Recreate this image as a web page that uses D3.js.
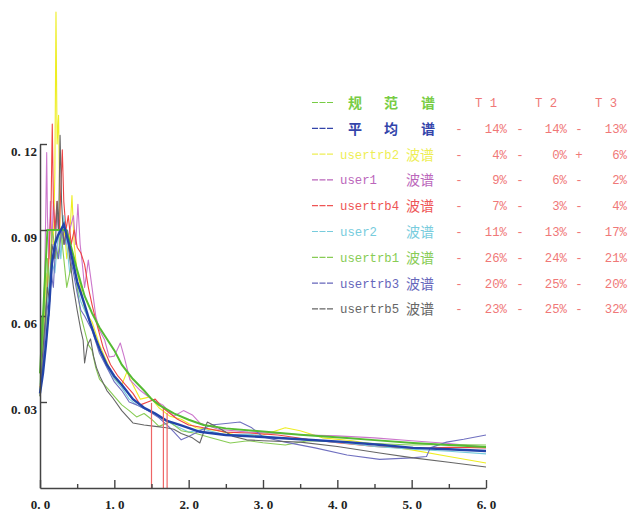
<!DOCTYPE html>
<html><head><meta charset="utf-8">
<script src="https://cdn.jsdelivr.net/npm/d3@7"></script>
<style>body{margin:0;background:#fff}svg{display:block}</style>
</head><body>
<svg id="c" width="628" height="512"></svg>
<script>
// ---- data ----
const xTicks = [0,0.5,1,1.5,2,2.5,3,3.5,4,4.5,5,5.5,6];
const xTickLabels = ["0. 0","","1. 0","","2. 0","","3. 0","","4. 0","","5. 0","","6. 0"];
const yTicks = [0.03,0.06,0.09,0.12];
const yTickLabels = ["0. 03","0. 06","0. 09","0. 12"];

const codeSpectrum = [[0,0.040],[0.1,0.09],[0.35,0.09],[0.4,0.086],[0.5,0.076],[0.6,0.067],[0.7,0.061],[0.8,0.056],[0.9,0.052],[1.0,0.048],[1.1,0.043],[1.25,0.038],[1.4,0.034],[1.5,0.031],[1.6,0.029],[1.7,0.0275],[1.8,0.026],[2.0,0.0238],[2.2,0.022],[2.5,0.0208],[3.0,0.0197],[3.5,0.0186],[4.13,0.0174],[4.5,0.0167],[5.02,0.0157],[5.5,0.015],[6.0,0.0143]];
const meanSpectrum = [[0,0.033],[0.04,0.04],[0.08,0.05],[0.12,0.062],[0.16,0.078],[0.2,0.085],[0.24,0.088],[0.28,0.09],[0.32,0.092],[0.36,0.088],[0.4,0.084],[0.45,0.078],[0.5,0.072],[0.55,0.068],[0.6,0.064],[0.67,0.058],[0.75,0.052],[0.81,0.048],[0.9,0.043],[1.0,0.039],[1.1,0.036],[1.25,0.031],[1.4,0.028],[1.55,0.026],[1.7,0.0235],[1.88,0.022],[2.15,0.0196],[2.5,0.0185],[3.0,0.0178],[3.5,0.017],[4.13,0.016],[4.6,0.015],[5.02,0.014],[5.5,0.0135],[6.0,0.0129]];
const usertrb2 = [[0,0.034],[0.03,0.045],[0.06,0.06],[0.08,0.075],[0.1,0.07],[0.12,0.085],[0.14,0.08],[0.16,0.09],[0.18,0.085],[0.2,0.11],[0.215,0.166],[0.23,0.12],[0.25,0.13],[0.27,0.09],[0.3,0.085],[0.33,0.09],[0.36,0.08],[0.4,0.088],[0.43,0.102],[0.46,0.085],[0.5,0.075],[0.55,0.07],[0.6,0.062],[0.7,0.058],[0.8,0.05],[0.9,0.044],[1.0,0.038],[1.1,0.036],[1.17,0.0405],[1.25,0.036],[1.35,0.031],[1.48,0.0318],[1.6,0.028],[1.75,0.025],[1.9,0.024],[2.1,0.021],[2.4,0.020],[2.7,0.018],[3.0,0.0185],[3.3,0.021],[3.5,0.02],[3.8,0.0175],[4.2,0.0165],[4.6,0.0148],[5.0,0.0133],[5.5,0.011],[6.0,0.0087]];
const user1 = [[0,0.04],[0.03,0.05],[0.06,0.07],[0.08,0.1],[0.09,0.117],[0.1,0.095],[0.12,0.08],[0.14,0.1],[0.16,0.085],[0.18,0.1],[0.2,0.09],[0.23,0.095],[0.26,0.085],[0.3,0.09],[0.35,0.085],[0.4,0.09],[0.45,0.095],[0.48,0.085],[0.51,0.099],[0.54,0.085],[0.57,0.078],[0.6,0.07],[0.65,0.0795],[0.7,0.07],[0.75,0.06],[0.8,0.055],[0.87,0.0516],[0.93,0.0457],[1.0,0.046],[1.08,0.0506],[1.13,0.046],[1.21,0.0377],[1.35,0.034],[1.5,0.031],[1.65,0.029],[1.8,0.025],[1.93,0.027],[2.05,0.0255],[2.15,0.0227],[2.4,0.0205],[2.8,0.0195],[3.2,0.019],[3.6,0.0185],[4.0,0.0182],[4.5,0.0175],[5.0,0.0165],[5.5,0.0155],[6.0,0.0143]];
const usertrb4 = [[0,0.035],[0.04,0.045],[0.08,0.06],[0.12,0.08],[0.15,0.1],[0.165,0.127],[0.18,0.1],[0.2,0.09],[0.23,0.1],[0.26,0.09],[0.3,0.118],[0.32,0.1],[0.35,0.09],[0.38,0.095],[0.42,0.085],[0.46,0.09],[0.5,0.084],[0.55,0.082],[0.6,0.078],[0.65,0.07],[0.7,0.064],[0.76,0.0576],[0.85,0.049],[0.95,0.043],[1.05,0.039],[1.15,0.036],[1.25,0.033],[1.35,0.029],[1.45,0.030],[1.55,0.031],[1.65,0.028],[1.75,0.026],[1.85,0.024],[2.0,0.022],[2.2,0.021],[2.5,0.0195],[2.8,0.0192],[3.2,0.0185],[3.6,0.017],[4.0,0.0158],[4.5,0.0145],[5.0,0.0138],[5.5,0.0142],[6.0,0.014]];
const user2 = [[0,0.036],[0.05,0.05],[0.1,0.065],[0.15,0.08],[0.2,0.075],[0.25,0.09],[0.28,0.08],[0.32,0.095],[0.36,0.085],[0.4,0.075],[0.45,0.08],[0.5,0.07],[0.55,0.065],[0.6,0.062],[0.7,0.056],[0.8,0.048],[0.9,0.042],[1.0,0.038],[1.1,0.035],[1.2,0.031],[1.3,0.029],[1.45,0.027],[1.6,0.025],[1.8,0.022],[2.0,0.0195],[2.2,0.0205],[2.5,0.0185],[2.8,0.0188],[3.2,0.0175],[3.6,0.0168],[4.0,0.016],[4.5,0.0145],[5.0,0.0135],[5.5,0.0128],[6.0,0.0119]];
const usertrb1 = [[0,0.032],[0.02,0.06],[0.04,0.045],[0.06,0.07],[0.08,0.055],[0.1,0.08],[0.13,0.07],[0.16,0.09],[0.2,0.085],[0.24,0.08],[0.28,0.09],[0.32,0.08],[0.36,0.07],[0.4,0.075],[0.45,0.08],[0.5,0.07],[0.55,0.06],[0.6,0.055],[0.65,0.05],[0.7,0.048],[0.75,0.042],[0.8,0.038],[0.9,0.035],[1.0,0.032],[1.1,0.029],[1.2,0.027],[1.3,0.0248],[1.4,0.026],[1.5,0.024],[1.6,0.0215],[1.75,0.023],[1.9,0.020],[2.1,0.019],[2.3,0.0175],[2.56,0.0157],[2.8,0.0165],[3.0,0.0158],[3.3,0.015],[3.6,0.0165],[4.0,0.0162],[4.5,0.0155],[5.0,0.015],[5.5,0.0152],[6.0,0.015]];
const usertrb3 = [[0,0.034],[0.03,0.04],[0.06,0.05],[0.09,0.065],[0.12,0.06],[0.15,0.075],[0.18,0.07],[0.21,0.085],[0.25,0.08],[0.29,0.09],[0.33,0.085],[0.37,0.09],[0.41,0.08],[0.45,0.075],[0.5,0.068],[0.55,0.062],[0.6,0.06],[0.7,0.055],[0.8,0.047],[0.9,0.042],[1.0,0.037],[1.1,0.034],[1.2,0.03],[1.3,0.029],[1.45,0.027],[1.6,0.0245],[1.75,0.021],[1.9,0.0168],[2.0,0.018],[2.15,0.020],[2.3,0.022],[2.5,0.0225],[2.69,0.023],[2.85,0.021],[3.0,0.0178],[3.3,0.016],[3.7,0.014],[4.13,0.0115],[4.57,0.010],[5.0,0.0105],[5.2,0.011],[5.25,0.014],[5.47,0.016],[5.7,0.017],[6.0,0.0185]];
const usertrb5 = [[0,0.032],[0.03,0.045],[0.06,0.055],[0.1,0.07],[0.13,0.065],[0.16,0.085],[0.2,0.08],[0.23,0.1],[0.25,0.09],[0.27,0.123],[0.29,0.1],[0.32,0.085],[0.36,0.09],[0.4,0.08],[0.45,0.07],[0.5,0.062],[0.55,0.055],[0.58,0.0516],[0.6,0.0436],[0.64,0.05],[0.68,0.052],[0.72,0.046],[0.76,0.042],[0.81,0.0387],[0.9,0.034],[0.98,0.0314],[1.1,0.027],[1.25,0.0227],[1.4,0.022],[1.55,0.0215],[1.7,0.021],[1.8,0.0205],[1.9,0.019],[2.05,0.0175],[2.15,0.0157],[2.25,0.023],[2.4,0.021],[2.6,0.018],[2.78,0.0168],[3.0,0.0165],[3.5,0.016],[4.0,0.0145],[4.57,0.0122],[5.02,0.0105],[5.5,0.009],[6.0,0.0073]];

const periods = [1.50,1.66,1.71];
const periodHeights = [0.0297,0.0276,0.0262];

const legendNames = ["规范谱","平均谱","usertrb2","user1","usertrb4","user2","usertrb1","usertrb3","usertrb5"];
const legendColors = ["#77cc44","#3344aa","#eeee55","#bb66bb","#ee5555","#77ccdd","#88cc55","#6666bb","#666666"];
const lineColors = ["#55bb33","#2244aa","#eeee22","#cc77cc","#ee4444","#77ccdd","#88cc55","#7070c0","#666666"];
const sign1 = ["-","-","-","-","-","-","-","-"];
const t1 = ["14%","4%","9%","7%","11%","26%","20%","23%"];
const sign2 = ["-","-","-","-","-","-","-","-"];
const t2 = ["14%","0%","6%","3%","13%","24%","25%","25%"];
const sign3 = ["-","+","-","-","-","-","-","-"];
const t3 = ["13%","6%","2%","4%","17%","21%","20%","32%"];
const headers = ["T 1","T 2","T 3"];

// ---- chart ----
const svg = d3.select("#c");
const x = d3.scaleLinear().domain([0,6]).range([40,486]);
const y = d3.scaleLinear().domain([0,0.12]).range([488,144]);
const line = d3.line().x(d=>x(d[0])).y(d=>y(d[1]));

const waveSeries = [usertrb2,user1,usertrb4,user2,usertrb1,usertrb3,usertrb5];
const g = svg.append("g");
waveSeries.forEach((s,i)=>{
  g.append("path").datum(s).attr("d",line).attr("fill","none")
   .attr("stroke",lineColors[i+2]).attr("stroke-width",1.1).attr("stroke-linejoin","round");
});
g.append("path").datum(codeSpectrum).attr("d",line).attr("fill","none")
  .attr("stroke",lineColors[0]).attr("stroke-width",2);
g.append("path").datum(meanSpectrum).attr("d",line).attr("fill","none")
  .attr("stroke",lineColors[1]).attr("stroke-width",2.4);

// period lines
g.selectAll("line.per").data(periods).enter().append("line")
  .attr("x1",d=>x(d)).attr("x2",d=>x(d)).attr("y1",y(0))
  .attr("y2",(d,i)=>y(periodHeights[i]))
  .attr("stroke","#ee6666").attr("stroke-width",1.2);

// axes
const xAxis = d3.axisBottom(x).tickValues(xTicks).tickSize(-8).tickSizeOuter(0)
  .tickFormat((d,i)=>xTickLabels[i]);
const xg = svg.append("g").attr("transform","translate(0,488)").call(xAxis);
xg.selectAll(".tick line").attr("y2",(d,i)=> i%2===0 ? -8 : -4);
xg.selectAll("text").attr("y",21).attr("dy",0);

const yAxis = d3.axisLeft(y).tickValues(yTicks).tickSize(-7).tickSizeOuter(0)
  .tickFormat((d,i)=>yTickLabels[i]);
const yg = svg.append("g").attr("transform","translate(40,0)").call(yAxis);
yg.selectAll(".tick line").attr("stroke-dasharray",(d)=> Math.abs(d-0.06)<1e-9 ? "2,1.5" : null);
yg.selectAll("text").attr("x",-3).attr("y",11).attr("dy",0);

[xg,yg].forEach(a=>{
  a.select(".domain").attr("stroke","#444").attr("stroke-width",1.5);
  a.selectAll(".tick line").attr("stroke","#444").attr("stroke-width",1.4);
  a.selectAll("text").attr("font-family","'Liberation Serif',serif").attr("font-weight","bold")
   .attr("font-size",13).attr("fill","#222");
});

// legend
const mono = "'Liberation Mono',monospace";
const cjk = "'Noto Sans CJK SC',sans-serif";
const rowY = i => 107 + i*25.8;
const lg = svg.append("g");
legendNames.forEach((name,i)=>{
  const c = legendColors[i];
  const yy = rowY(i);
  lg.append("line").attr("x1",312).attr("x2",333).attr("y1",yy-4.5).attr("y2",yy-4.5)
    .attr("stroke",c).attr("stroke-width",1.2).attr("stroke-dasharray","6,1.5");
  if (i<2) {
    const xs=[348,384,421];
    Array.from(name).forEach((ch,k)=>{
      lg.append("text").attr("x",xs[k]).attr("y",yy+1).text(ch)
        .attr("font-family",cjk).attr("font-size",14).attr("font-weight","bold").attr("fill",c);
    });
  } else {
    lg.append("text").attr("x",340).attr("y",yy).text(name)
      .attr("font-family",mono).attr("font-size",12.3).attr("fill",c);
    lg.append("text").attr("x",406).attr("y",yy+1).text("波谱")
      .attr("font-family",cjk).attr("font-size",14).attr("fill",c);
  }
  if (i>0) {
    const j=i-1;
    const pc="#f07878";
    const add=(xx,txt,anchor)=>lg.append("text").attr("x",xx).attr("y",yy).text(txt)
      .attr("text-anchor",anchor).attr("font-family",mono).attr("font-size",12.3).attr("fill",pc);
    add(459,sign1[j],"middle"); add(507,t1[j],"end");
    add(520,sign2[j],"middle"); add(567,t2[j],"end");
    add(579,sign3[j],"middle"); add(627,t3[j],"end");
  }
});
headers.forEach((h,k)=>{
  lg.append("text").attr("x",[475,535,595][k]).attr("y",rowY(0)).text(h)
    .attr("font-family",mono).attr("font-size",12.3).attr("fill","#f07878");
});
</script>
</body></html>
